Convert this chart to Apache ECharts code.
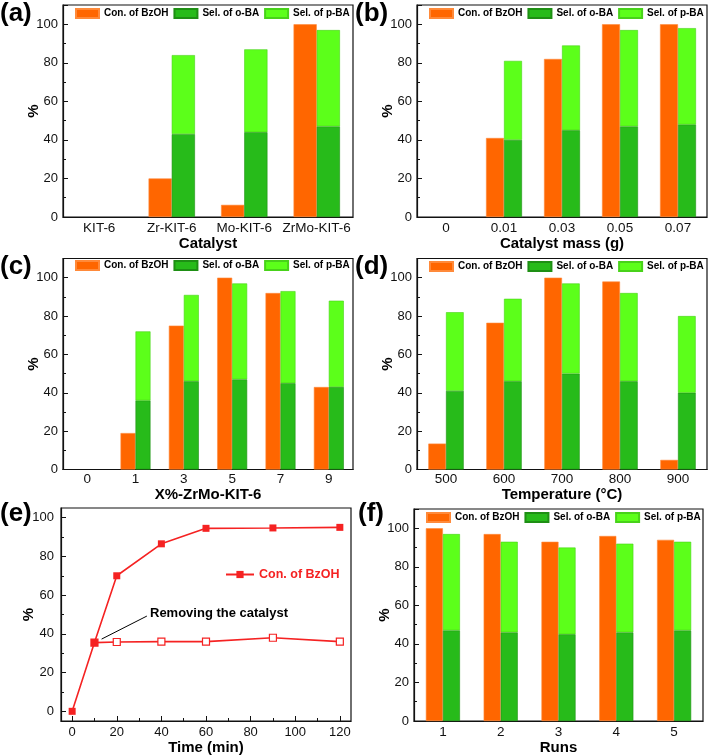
<!DOCTYPE html>
<html>
<head>
<meta charset="utf-8">
<script src="https://cdn.jsdelivr.net/npm/echarts@6/dist/echarts.min.js"></script>
<style>html,body{margin:0;padding:0;background:#fff}#c{width:709px;height:756px}</style>
</head>
<body>
<div id="c"></div>
<script>
// ---- data ----
const legendNames = ['Con. of BzOH', 'Sel. of o-BA', 'Sel. of p-BA'];

const catA = ['KIT-6', 'Zr-KIT-6', 'Mo-KIT-6', 'ZrMo-KIT-6'];
const conA = [0, 20, 6.3, 100];
const oA = [0, 43, 44, 47];
const pA = [0, 41, 43, 50];

const catB = ['0', '0.01', '0.03', '0.05', '0.07'];
const conB = [0, 41, 82, 100, 100];
const oB = [0, 40, 45, 47, 48];
const pB = [0, 41, 44, 50, 50];

const catC = ['0', '1', '3', '5', '7', '9'];
const conC = [0, 19, 75, 100, 92, 43];
const oC = [0, 36, 46, 47, 45, 43];
const pC = [0, 36, 45, 50, 48, 45];

const catD = ['500', '600', '700', '800', '900'];
const conD = [13.5, 76.5, 100, 98, 5];
const oD = [41, 46, 50, 46, 40];
const pD = [41, 43, 47, 46, 40];

const catF = ['1', '2', '3', '4', '5'];
const conF = [100, 97, 93, 96, 94];
const oF = [47, 46, 45, 46, 47];
const pF = [50, 47, 45, 46, 46];

const timeE = [0, 10, 20, 40, 60, 90, 120];
const conE = [0, 35.5, 70, 86.5, 94.5, 94.7, 95];
const timeR = [10, 20, 40, 60, 90, 120];
const conR = [35.5, 35.8, 36, 36, 38, 36];

const yTicks = [0, 20, 40, 60, 80, 100];
const eXTicks = [0, 20, 40, 60, 80, 100, 120];
const eXMinor = [10, 30, 50, 70, 90, 110];
const eYMinor = [10, 30, 50, 70, 90];

// ---- style ----
const FONT = '"Liberation Sans", Arial, sans-serif';
const ORANGE = '#FF6600';
const DGREEN = '#27BB1A';
const LGREEN = '#5CFF1A';
const RED = '#F52222';

const grids = [
  {left: 63, top: 5, width: 290, height: 212},
  {left: 417, top: 5, width: 290, height: 212},
  {left: 63, top: 258.5, width: 290, height: 211},
  {left: 417, top: 258.5, width: 290, height: 211},
  {left: 61, top: 508, width: 290, height: 213},
  {left: 414, top: 509, width: 289, height: 212}
];
grids.forEach(g => { g.show = true; g.borderColor = '#111'; g.borderWidth = 1.2; g.containLabel = false; });

const xAxes = [], yAxes = [], series = [], legends = [];
const nz = arr => arr.map(v => (v === 0 ? null : v));

function yBar(i) {
  return {
    type: 'value', gridIndex: i, min: 0, max: 110, interval: 20,
    name: '%', nameLocation: 'middle', nameGap: 22, nameMoveOverlap: false,
    nameTextStyle: {fontFamily: FONT, fontWeight: 'bold', fontSize: 15, color: '#000'},
    axisLine: {show: true, lineStyle: {color: '#111', width: 1.2}},
    axisTick: {show: true, inside: true, length: 5, lineStyle: {color: '#111'}},
    minorTick: {show: true, splitNumber: 2, length: 3, lineStyle: {color: '#111'}},
    splitLine: {show: false},
    axisLabel: {fontFamily: FONT, fontSize: 13, color: '#111', margin: 5, showMaxLabel: false}
  };
}
function xCat(i, cats, name, nameGap, margin) {
  return {
    type: 'category', gridIndex: i, data: cats,
    name: name, nameLocation: 'middle', nameGap: nameGap,
    nameTextStyle: {fontFamily: FONT, fontWeight: 'bold', fontSize: 15, color: '#000'},
    axisLine: {show: true, lineStyle: {color: '#111', width: 1.2}},
    axisTick: {show: false},
    splitLine: {show: false},
    axisLabel: {fontFamily: FONT, fontSize: 13.5, color: '#111', margin: margin, interval: 0, hideOverlap: false}
  };
}
function barPanel(i, cats, con, o, p, xname, nameGap, margin, legendTop, gap) {
  xAxes[i] = xCat(i, cats, xname, nameGap, margin);
  yAxes[i] = yBar(i);
  const stack = 'sel' + i;
  series.push({
    name: legendNames[0], type: 'bar', xAxisIndex: i, yAxisIndex: i, data: nz(con),
    barGap: '0%', barCategoryGap: gap,
    itemStyle: {color: ORANGE, borderColor: '#FF8A3A', borderWidth: 0.6}
  });
  series.push({
    name: legendNames[1], type: 'bar', xAxisIndex: i, yAxisIndex: i, data: nz(o), stack: stack,
    barGap: '0%', barCategoryGap: gap,
    itemStyle: {color: DGREEN, borderColor: '#1E8F14', borderWidth: 0.6}
  });
  series.push({
    name: legendNames[2], type: 'bar', xAxisIndex: i, yAxisIndex: i, data: nz(p), stack: stack,
    barGap: '0%', barCategoryGap: gap,
    itemStyle: {color: LGREEN, borderColor: '#48D21A', borderWidth: 0.6}
  });
  legends.push({
    data: legendNames, left: grids[i].left + 12, top: legendTop, padding: 0,
    itemWidth: 23, itemHeight: 9, itemGap: 5, icon: 'rect', selectedMode: false,
    textStyle: {fontFamily: FONT, fontSize: 10, fontWeight: 'bold', color: '#000'}
  });
}

barPanel(0, catA, conA, oA, pA, 'Catalyst', 17, 4, 8, '36%');
barPanel(1, catB, conB, oB, pB, 'Catalyst mass (g)', 17, 4, 8, '38%');
barPanel(2, catC, conC, oC, pC, 'X%-ZrMo-KIT-6', 15, 3, 260, '38%');
barPanel(3, catD, conD, oD, pD, 'Temperature (\u00B0C)', 15, 3, 261, '39%');
barPanel(5, catF, conF, oF, pF, 'Runs', 13, 4, 512, '41%');

// panel (e)
xAxes[4] = {
  type: 'value', gridIndex: 4, min: -5, max: 125,
  name: 'Time (min)', nameLocation: 'middle', nameGap: 18,
  nameTextStyle: {fontFamily: FONT, fontWeight: 'bold', fontSize: 15, color: '#000'},
  axisLine: {show: true, onZero: false, lineStyle: {color: '#111', width: 1.2}},
  axisTick: {show: true, inside: true, length: 5, customValues: eXTicks, lineStyle: {color: '#111'}},
  axisLabel: {fontFamily: FONT, fontSize: 13, color: '#111', margin: 5, customValues: eXTicks},
  splitLine: {show: false}
};
yAxes[4] = {
  type: 'value', gridIndex: 4, min: -5, max: 105,
  name: '%', nameLocation: 'middle', nameGap: 25, nameMoveOverlap: false,
  nameTextStyle: {fontFamily: FONT, fontWeight: 'bold', fontSize: 15, color: '#000'},
  axisLine: {show: true, onZero: false, lineStyle: {color: '#111', width: 1.2}},
  axisTick: {show: true, inside: true, length: 5, customValues: yTicks, lineStyle: {color: '#111'}},
  axisLabel: {fontFamily: FONT, fontSize: 13, color: '#111', margin: 7, customValues: yTicks},
  splitLine: {show: false}
};
// minor-tick overlay axes for (e)
xAxes[6] = {
  type: 'value', gridIndex: 4, min: -5, max: 125, position: 'bottom',
  axisLine: {show: false, onZero: false}, axisLabel: {show: false}, splitLine: {show: false},
  axisTick: {show: true, inside: true, length: 3, customValues: eXMinor, lineStyle: {color: '#111'}}
};
yAxes[6] = {
  type: 'value', gridIndex: 4, min: -5, max: 105, position: 'left',
  axisLine: {show: false, onZero: false}, axisLabel: {show: false}, splitLine: {show: false},
  axisTick: {show: true, inside: true, length: 3, customValues: eYMinor, lineStyle: {color: '#111'}}
};

series.push({
  name: 'eRemoved', type: 'line', xAxisIndex: 4, yAxisIndex: 4, z: 2,
  data: timeR.map((t, k) => [t, conR[k]]),
  symbol: 'rect', symbolSize: 7,
  itemStyle: {color: '#fff', borderColor: RED, borderWidth: 1.2},
  lineStyle: {color: RED, width: 1.6},
  markLine: {
    silent: true, symbol: ['none', 'arrow'], symbolSize: [0, 8],
    lineStyle: {color: '#000', width: 1, type: 'solid'},
    label: {show: false},
    data: [[{coord: [33.5, 49.2]}, {coord: [13.2, 37.3]}]]
  }
});
series.push({
  name: 'eCon', type: 'line', xAxisIndex: 4, yAxisIndex: 4, z: 3,
  data: timeE.map((t, k) => [t, conE[k]]),
  symbol: 'rect', symbolSize: 7,
  itemStyle: {color: RED},
  lineStyle: {color: RED, width: 1.6}
});
legends.push({
  data: ['eCon'], left: 225, top: 568, padding: 0, selectedMode: false,
  itemWidth: 28, itemHeight: 9,
  formatter: () => 'Con. of BzOH',
  textStyle: {fontFamily: FONT, fontSize: 12.5, fontWeight: 'bold', color: RED}
});

const labelStyle = (t, x, y) => ({
  type: 'text', left: x, top: y,
  style: {text: t, fontFamily: FONT, fontWeight: 'bold', fontSize: 26, fill: '#000'}
});

const chart = echarts.init(document.getElementById('c'), null, {renderer: 'canvas'});
chart.setOption({
  animation: false,
  backgroundColor: '#fff',
  grid: grids,
  xAxis: xAxes,
  yAxis: yAxes,
  legend: legends,
  series: series,
  graphic: [
    labelStyle('(a)', 0, 1),
    labelStyle('(b)', 355, 1),
    labelStyle('(c)', 0, 254),
    labelStyle('(d)', 355, 254),
    labelStyle('(e)', 0, 501),
    labelStyle('(f)', 358, 501),
    {type: 'text', left: 150, top: 607,
     style: {text: 'Removing the catalyst', fontFamily: FONT, fontWeight: 'bold', fontSize: 13, fill: '#000'}}
  ]
});
</script>
</body>
</html>
